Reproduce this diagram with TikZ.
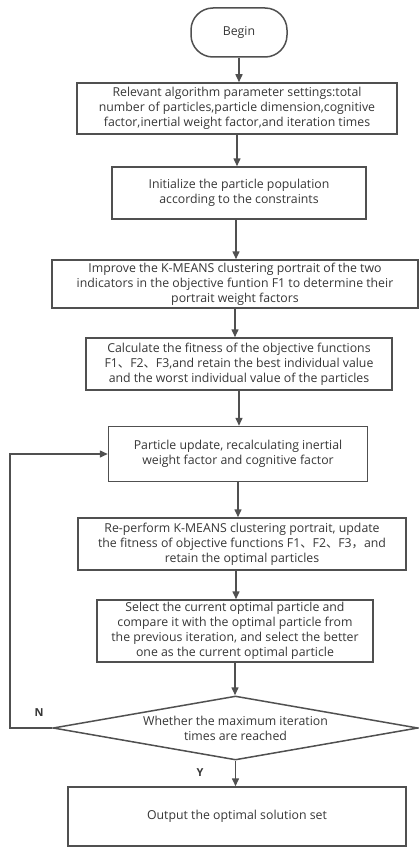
\documentclass[tikz,border=0pt]{standalone}
\usepackage{fontspec}
\setmainfont{Open Sans}
\newfontfamily\cjk{Noto Sans CJK SC}
\usetikzlibrary{shapes.geometric,arrows.meta}
\definecolor{ln}{HTML}{505050}
\definecolor{tx}{HTML}{363636}
\newcommand{\dn}{{\cjk 、}}
\newcommand{\cm}{{\cjk ，}}
\tikzset{
  box/.style={draw=ln, line width=1.5pt, align=center, text=tx, inner sep=2pt,
    font=\fontsize{12.3}{15}\selectfont},
  arr/.style={draw=ln, line width=1.5pt, -{Triangle[length=8pt,width=7pt]}},
  lbl/.style={text=tx, font=\fontsize{11}{12}\selectfont\bfseries}
}
\begin{document}
\begin{tikzpicture}[x=1pt,y=-1pt]
\useasboundingbox (0,0) rectangle (419,848);
\node[box, rounded corners=22pt, minimum width=96pt, minimum height=49pt] (begin) at (239,32.5) {Begin};
\node[box, minimum width=320pt, minimum height=51pt] (b1) at (237,108.5)
  {Relevant algorithm parameter settings:total\\number of particles,particle dimension,cognitive\\factor,inertial weight factor,and iteration times};
\node[box, minimum width=254pt, minimum height=52pt] (b2) at (239,193)
  {Initialize the particle population\\according to the constraints};
\node[box, minimum width=366pt, minimum height=48pt] (b3) at (235,284)
  {Improve the K-MEANS clustering portrait of the two\\indicators in the objective funtion F1 to determine their\\portrait weight factors};
\node[box, minimum width=306pt, minimum height=52pt] (b4) at (239,364)
  {Calculate the fitness of the objective functions\\F1\dn F2\dn F3,and retain the best individual value\\and the worst individual value of the particles};
\node[box, minimum width=259pt, minimum height=55pt] (b5) at (238,454)
  {Particle update, recalculating inertial\\weight factor and cognitive factor};
\node[box, minimum width=328pt, minimum height=52pt] (b6) at (242,544)
  {Re-perform K-MEANS clustering portrait, update\\the fitness of objective functions F1\dn F2\dn F3\cm and\\retain the optimal particles};
\node[box, minimum width=276pt, minimum height=62pt] (b7) at (235,631)
  {Select the current optimal particle and\\compare it with the optimal particle from\\the previous iteration, and select the better\\one as the current optimal particle};
\node[box, diamond, aspect=5.7, inner sep=0pt, minimum width=365pt, minimum height=64pt] (dia) at (235.5,728)
  {Whether the maximum iteration\\times are reached};
\node[box, minimum width=338pt, minimum height=59pt] (b8) at (237,816.5)
  {Output the optimal solution set};
\draw[arr] (begin.south) -- (begin.south |- b1.north);
\draw[arr] (b1.south) -- (b1.south |- b2.north);
\draw[arr] ([xshift=-3pt]b2.south) -- ([xshift=-3pt]b2.south |- b3.north);
\draw[arr] (b3.south) -- (b3.south |- b4.north);
\draw[arr] (b4.south) -- (b4.south |- b5.north);
\draw[arr] (b5.south) -- (b5.south |- b6.north);
\draw[arr] ([xshift=-6pt]b6.south) -- ([xshift=-6pt]b6.south |- b7.north);
\draw[arr] (b7.south) -- (b7.south |- dia.north);
\draw[arr] (dia.south) -- (dia.south |- b8.north);
\draw[arr] (dia.west) -- ++(-42.5,0) |- (b5.west);
\node[lbl] (n) at (39,713) {N};
\node[lbl] (y) at (200,773) {Y};
\end{tikzpicture}
\end{document}
